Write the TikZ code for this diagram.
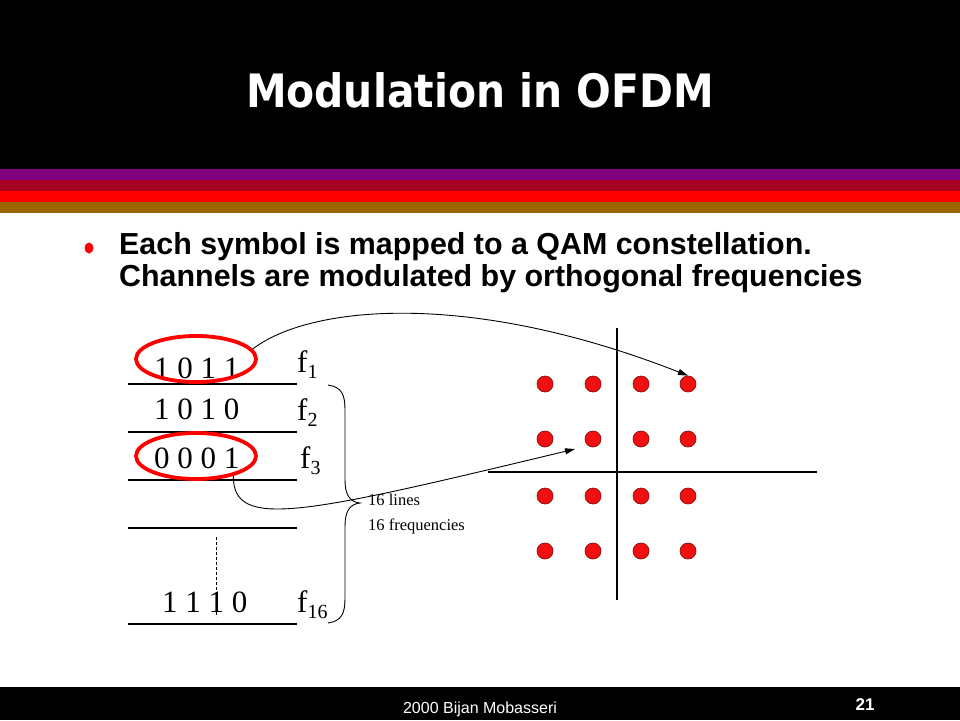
\documentclass[tikz,border=0pt]{standalone}
\usepackage{fontspec}
\setmainfont{Liberation Serif}
\newfontfamily\titlefont{DejaVu Sans}
\newfontfamily\arialf{Liberation Sans}
\usetikzlibrary{arrows.meta,shapes.geometric}
\definecolor{stpurple}{HTML}{800080}
\definecolor{stcrimson}{HTML}{A50021}
\definecolor{stred}{HTML}{FF0000}
\definecolor{stbrown}{HTML}{996600}
\definecolor{dotred}{HTML}{F01010}
\definecolor{dotedge}{HTML}{8A1010}
\tikzset{
  bits/.style={anchor=base west,inner sep=0pt,font=\fontsize{31}{31}\selectfont},
  freq/.style={anchor=base west,inner sep=0pt,font=\fontsize{31}{31}\selectfont},
  hline/.style={line width=1.1pt},
  redring/.style={ellipse,draw=stred,line width=3.8pt,minimum width=120pt,minimum height=46pt,inner sep=0pt},
  qam/.style={circle,fill=dotred,draw=dotedge,line width=0.7pt,minimum size=16pt,inner sep=0pt},
  conn/.style={line width=0.9pt,-{Triangle[length=10pt,width=6pt]}},
  axis/.style={line width=1.1pt},
  bullettext/.style={anchor=base west,inner sep=0pt,font=\arialf\bfseries\fontsize{30.4}{30.4}\selectfont}
}
\begin{document}
\begin{tikzpicture}[x=1pt,y=-1pt]
\useasboundingbox (0,0) rectangle (960,720);
\fill[white] (0,0) rectangle (960,720);
% header
\fill[black] (0,0) rectangle (960,169);
\fill[stpurple] (0,169) rectangle (960,180);
\fill[stcrimson] (0,180) rectangle (960,191);
\fill[stred] (0,191) rectangle (960,202);
\fill[stbrown] (0,202) rectangle (960,213);
\node[anchor=base,inner sep=0pt,text=white,xscale=0.888,font=\titlefont\bfseries\fontsize{46}{46}\selectfont] (title) at (480,107) {Modulation in OFDM};
% footer
\fill[black] (0,687) rectangle (960,720);
\node[anchor=base,inner sep=0pt,text=white,font=\arialf\fontsize{16}{16}\selectfont] (foot) at (480,713) {2000 Bijan Mobasseri};
\node[anchor=base,inner sep=0pt,text=white,font=\arialf\bfseries\fontsize{17}{17}\selectfont] (pnum) at (865,710) {21};
% bullet
\node[ellipse,fill=stred,minimum width=9pt,minimum height=11pt,inner sep=0pt] (bul) at (89,248) {};
\node[bullettext] (bt1) at (119,254) {Each symbol is mapped to a QAM constellation.};
\node[bullettext] (bt2) at (119,286) {Channels are modulated by orthogonal frequencies};
% lines
\draw[hline] (128,384) -- (297,384);
\draw[hline] (128,432) -- (297,432);
\draw[hline] (128,480) -- (297,480);
\draw[hline] (128,528) -- (297,528);
\draw[hline] (128,624) -- (297,624);
\draw[line width=0.9pt,dash pattern=on 3pt off 2pt] (216,537) -- (216,617);
% bits
\node[bits] (b1) at (154,378) {1 0 1 1};
\node[bits] (b2) at (154,419) {1 0 1 0};
\node[bits] (b3) at (154,468) {0 0 0 1};
\node[bits] (b16) at (162,612) {1 1 1 0};
\node[freq] (f1) at (297,372) {f\raisebox{-6pt}{\fontsize{20}{20}\selectfont 1}};
\node[freq] (f2) at (297,420) {f\raisebox{-6pt}{\fontsize{20}{20}\selectfont 2}};
\node[freq] (f3) at (300,468) {f\raisebox{-6pt}{\fontsize{20}{20}\selectfont 3}};
\node[freq] (f16) at (297,612) {f\raisebox{-6pt}{\fontsize{20}{20}\selectfont 16}};
% red ellipses
\node[redring] (e1) at (196,359) {};
\node[redring] (e2) at (196,456) {};
% brace
\draw[line width=0.9pt] (328,385) .. controls (342,387) and (345,395) .. (345,410) -- (345,480)
  .. controls (345,495) and (350,502) .. (360,503)
  .. controls (350,504) and (345,511) .. (345,526) -- (345,598)
  .. controls (345,613) and (342,621) .. (328,623);
\node[anchor=base west,inner sep=0pt,font=\fontsize{16.5}{16.5}\selectfont] (lab1) at (368,505) {16 lines};
\node[anchor=base west,inner sep=0pt,font=\fontsize{16.5}{16.5}\selectfont] (lab2) at (368,530) {16 frequencies};
% constellation
\draw[axis] (617,328) -- (617,600);
\draw[axis] (488,472) -- (817,472);
\foreach \c/\x in {1/545,2/593,3/641,4/688}{
  \foreach \r/\y in {1/384,2/439,3/496,4/551}{
    \node[qam] (d\r\c) at (\x,\y) {};
  }
}
\coordinate (a2end) at (575,449);
% connectors
\draw[conn] (e1.10) .. controls (310,305) and (470,290) .. (d14.north);
\draw[conn] (e2.-28) .. controls (233,530) and (300,515) .. (a2end);
\end{tikzpicture}
\end{document}
